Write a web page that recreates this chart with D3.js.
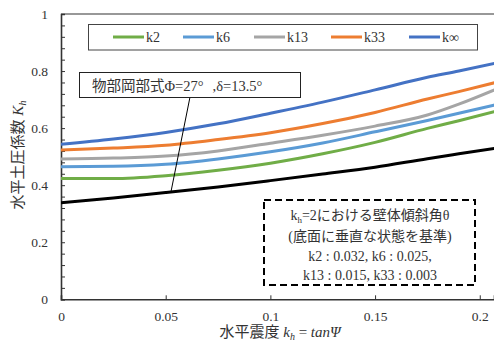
<!DOCTYPE html>
<html><head><meta charset="utf-8">
<script src="https://cdn.jsdelivr.net/npm/d3@7"></script>
<style>
html,body{margin:0;padding:0;background:#fff;}
svg{display:block;}
text{font-family:"Liberation Serif","Times New Roman","Noto Sans CJK JP",serif;fill:#333;}
</style></head>
<body>
<svg id="c" width="494" height="343"></svg>
<script>
// ---- data ----
const kh = [0, 0.025, 0.05, 0.075, 0.1, 0.125, 0.15, 0.175, 0.19, 0.207];
const seriesNames = ["k2", "k6", "k13", "k33", "k∞"];
const seriesColors = ["#70AD47", "#5B9BD5", "#A5A5A5", "#ED7D31", "#4472C4"];
const k2   = [0.423, 0.423, 0.433, 0.452, 0.477, 0.510, 0.550, 0.599, 0.626, 0.658];
const k6   = [0.465, 0.466, 0.473, 0.492, 0.517, 0.548, 0.587, 0.627, 0.652, 0.681];
const k13  = [0.492, 0.495, 0.502, 0.520, 0.547, 0.575, 0.607, 0.646, 0.684, 0.734];
const k33  = [0.523, 0.530, 0.540, 0.560, 0.584, 0.616, 0.655, 0.702, 0.728, 0.759];
const kInf = [0.543, 0.562, 0.585, 0.615, 0.652, 0.691, 0.734, 0.778, 0.800, 0.827];
const mononobeOkabe = [0.338, 0.355, 0.374, 0.394, 0.416, 0.439, 0.463, 0.493, 0.510, 0.529];
const seriesValues = [k2, k6, k13, k33, kInf];
const xTicks = [0, 0.05, 0.1, 0.15, 0.2];
const xTickLabels = ["0", "0.05", "0.1", "0.15", "0.2"];
const yTicks = [0, 0.2, 0.4, 0.6, 0.8, 1];
const yTickLabels = ["0", "0.2", "0.4", "0.6", "0.8", "1"];
const yMinorTicks = d3.range(0, 1.0001, 0.04);
const annotationPoint = [0.0525, 0.376];
const noteLines = ["(底面に垂直な状態を基準)", "k2 : 0.032, k6 : 0.025,", "k13 : 0.015, k33 : 0.003"];

// ---- layout ----
const svg = d3.select("#c");
const L = 61, R = 494, T = 14, B = 299.3;
const x = d3.scaleLinear().domain([0, 0.2068]).range([L, R]);
const y = d3.scaleLinear().domain([0, 1]).range([B, T]);

svg.append("defs").append("clipPath").attr("id","clip")
  .append("rect").attr("x", L).attr("y", T).attr("width", R - L).attr("height", B - T);

// top frame line
svg.append("line").attr("x1", L).attr("x2", R).attr("y1", T).attr("y2", T)
  .attr("stroke", "#333").attr("stroke-width", 1.2);

// y axis (inward ticks)
const yAxisMinor = d3.axisRight(y).tickValues(yMinorTicks).tickSize(4).tickFormat("");
const gy = svg.append("g").attr("transform", `translate(${L},0)`).call(yAxisMinor);
gy.select(".domain").attr("stroke", "#333").attr("stroke-width", 1.6);
gy.selectAll(".tick line").attr("stroke", "#333").attr("stroke-width", 1);
const gyl = svg.append("g").attr("transform", `translate(${L},0)`)
  .call(d3.axisLeft(y).tickValues(yTicks).tickSize(0).tickPadding(13)
    .tickFormat((d, i) => yTickLabels[i]));
gyl.select(".domain").remove();
gyl.selectAll("text").attr("font-size", 13.5)
  .style("font-family", '"Liberation Serif", serif').attr("fill", "#333");

// x axis (inward ticks)
const gx = svg.append("g").attr("transform", `translate(0,${B})`)
  .call(d3.axisTop(x).tickValues(xTicks).tickSize(4).tickFormat(""));
gx.select(".domain").attr("stroke", "#333").attr("stroke-width", 1.6);
gx.selectAll(".tick line").attr("stroke", "#333").attr("stroke-width", 1);
const gxl = svg.append("g").attr("transform", `translate(0,${B})`)
  .call(d3.axisBottom(x).tickValues(xTicks).tickSize(0).tickPadding(12)
    .tickFormat((d, i) => xTickLabels[i]));
gxl.select(".domain").remove();
gxl.selectAll("text").attr("font-size", 13.5)
  .style("font-family", '"Liberation Serif", serif').attr("fill", "#333");

// curves
const line = d3.line().x((d, i) => x(kh[i])).y(d => y(d)).curve(d3.curveMonotoneX);
const plot = svg.append("g").attr("clip-path", "url(#clip)");
plot.append("path").datum(mononobeOkabe).attr("d", line)
  .attr("fill", "none").attr("stroke", "#000").attr("stroke-width", 3);
seriesValues.forEach((vals, i) => {
  plot.append("path").datum(vals).attr("d", line)
    .attr("fill", "none").attr("stroke", seriesColors[i]).attr("stroke-width", 3);
});

// legend
const lg = svg.append("g");
lg.append("rect").attr("x", 88.5).attr("y", 24.5).attr("width", 389).attr("height", 25.5)
  .attr("fill", "#fff").attr("stroke", "#444").attr("stroke-width", 1);
const legX = [113, 183, 254, 331, 409];
seriesNames.forEach((n, i) => {
  lg.append("line").attr("x1", legX[i]).attr("x2", legX[i] + 31).attr("y1", 37).attr("y2", 37)
    .attr("stroke", seriesColors[i]).attr("stroke-width", 3);
  lg.append("text").attr("x", legX[i] + 33).attr("y", 42).attr("font-size", 14).text(n);
});

// Mononobe-Okabe annotation
const ap = [x(annotationPoint[0]), y(annotationPoint[1])];
svg.append("line").attr("x1", 190).attr("y1", 97).attr("x2", ap[0]).attr("y2", ap[1])
  .attr("stroke", "#000").attr("stroke-width", 1);
svg.append("rect").attr("x", 79.5).attr("y", 72.5).attr("width", 221).attr("height", 25)
  .attr("fill", "#fff").attr("stroke", "#222").attr("stroke-width", 1);
const at = svg.append("text").attr("x", 92).attr("y", 91).attr("font-size", 14.5);
at.append("tspan").text("物部岡部式Φ=27°");
at.append("tspan").attr("dx", 9).text(",δ=13.5°");

// dashed note box
svg.append("rect").attr("x", 264).attr("y", 200).attr("width", 211).attr("height", 85)
  .attr("fill", "#fff").attr("stroke", "#000").attr("stroke-width", 2)
  .attr("stroke-dasharray", "7,4");
const cx = 370;
const t1 = svg.append("text").attr("x", cx).attr("y", 220).attr("text-anchor", "middle").attr("font-size", 14);
t1.append("tspan").text("k");
t1.append("tspan").attr("font-size", 9).attr("dy", 3).text("h");
t1.append("tspan").attr("dy", -3).text("=2における壁体傾斜角θ");
noteLines.forEach((s, i) => {
  svg.append("text").attr("x", cx).attr("y", 241 + i * 19.5).attr("text-anchor", "middle")
    .attr("font-size", 14).text(s);
});

// axis titles
const yt = svg.append("text").attr("transform", "translate(23,155) rotate(-90)")
  .attr("text-anchor", "middle").attr("font-size", 15);
yt.append("tspan").text("水平土圧係数 ");
yt.append("tspan").attr("font-style", "italic").text("K");
yt.append("tspan").attr("font-style", "italic").attr("font-size", 10).attr("dy", 3).text("h");

const xt = svg.append("text").attr("x", 280).attr("y", 337)
  .attr("text-anchor", "middle").attr("font-size", 15);
xt.append("tspan").text("水平震度 ");
xt.append("tspan").attr("font-style", "italic").text("k");
xt.append("tspan").attr("font-style", "italic").attr("font-size", 10).attr("dy", 3).text("h");
xt.append("tspan").attr("dy", -3).text(" = ");
xt.append("tspan").attr("font-style", "italic").text("tanΨ");
</script>
</body></html>
